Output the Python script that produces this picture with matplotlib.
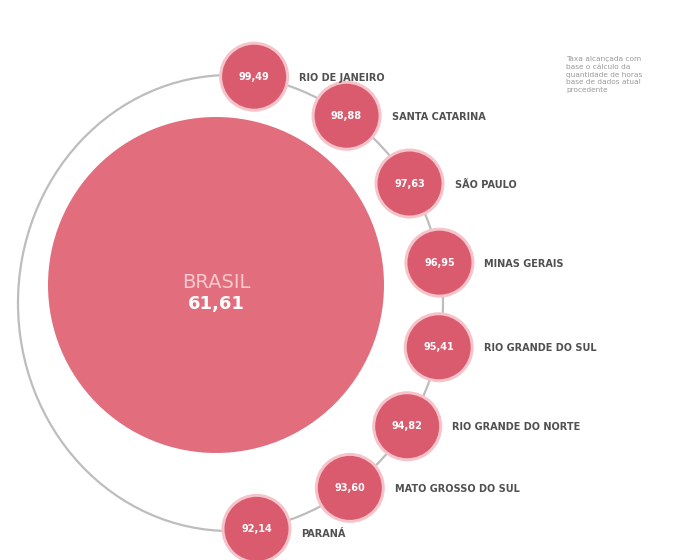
import numpy as np
import matplotlib.pyplot as plt
from matplotlib.patches import Circle, Arc

# data (values are hard to read in the source, estimated)
total_label = "BRASIL"
total_value = "61,61"
states = ["RIO DE JANEIRO", "SANTA CATARINA", "SÃO PAULO", "MINAS GERAIS",
          "RIO GRANDE DO SUL", "RIO GRANDE DO NORTE", "MATO GROSSO DO SUL", "PARANÁ"]
state_values = ["99,49", "98,88", "97,63", "96,95", "95,41", "94,82", "93,60", "92,14"]
note = ("Taxa alcançada com\nbase o cálculo da\nquantidade de horas\n"
        "base de dados atual\nprocedente")

# layout
W, H = 685, 560
big_c, big_r = (216, 285), 168
chain_c, chain_r = (213, 303), 230
left_c, left_a, left_b = (230, 303), 212, 228
small_r = 32
angles = np.radians([79.7, 54.5, 31.3, 10.1, -11.1, -32.4, -53.5, -79.1])

pink = "#e26e7d"
dark_pink = "#d95b6d"
ring_col = "#bdbdbd"
txt_col = "#505050"

fig = plt.figure(figsize=(W / 100, H / 100), dpi=100)
ax = fig.add_axes([0, 0, 1, 1])
ax.set_xlim(0, W)
ax.set_ylim(H, 0)
ax.set_aspect("equal")
ax.axis("off")

# gray ring: wide arc on the left, chain through the small circles on the right
ax.add_patch(Arc(left_c, 2 * left_a, 2 * left_b, theta1=90, theta2=270,
                 edgecolor=ring_col, lw=1.6, zorder=1))
ax.add_patch(Arc(chain_c, 2 * chain_r, 2 * chain_r, theta1=-80, theta2=80,
                 edgecolor=ring_col, lw=1.6, zorder=1))

# big circle
ax.add_patch(Circle(big_c, big_r, facecolor=pink, edgecolor="none", zorder=2))
ax.text(big_c[0], big_c[1] - 3, total_label, color="#f6c9cf", fontsize=14,
        ha="center", va="center", zorder=3)
ax.text(big_c[0], big_c[1] + 19, total_value, color="white", fontsize=13,
        fontweight="bold", ha="center", va="center", zorder=3)

for i, (name, val) in enumerate(zip(states, state_values)):
    x = chain_c[0] + chain_r * np.cos(angles[i])
    y = chain_c[1] - chain_r * np.sin(angles[i])
    ax.add_patch(Circle((x, y), small_r + 3, facecolor="#f5c3ca",
                        edgecolor="none", zorder=3))
    ax.add_patch(Circle((x, y), small_r, facecolor=dark_pink,
                        edgecolor="none", zorder=4))
    ax.text(x, y, val, color="white", fontsize=7, fontweight="bold",
            ha="center", va="center", zorder=5)
    dy = 5 if i == len(states) - 1 else 1
    ax.text(x + small_r + 13, y + dy, name, color=txt_col, fontsize=7,
            fontweight="bold", ha="left", va="center", zorder=5)

ax.text(566, 56, note, color="#9a9a9a", fontsize=5.3, ha="left", va="top",
        linespacing=1.35)

fig.savefig("out.png", dpi=100, facecolor="white")
